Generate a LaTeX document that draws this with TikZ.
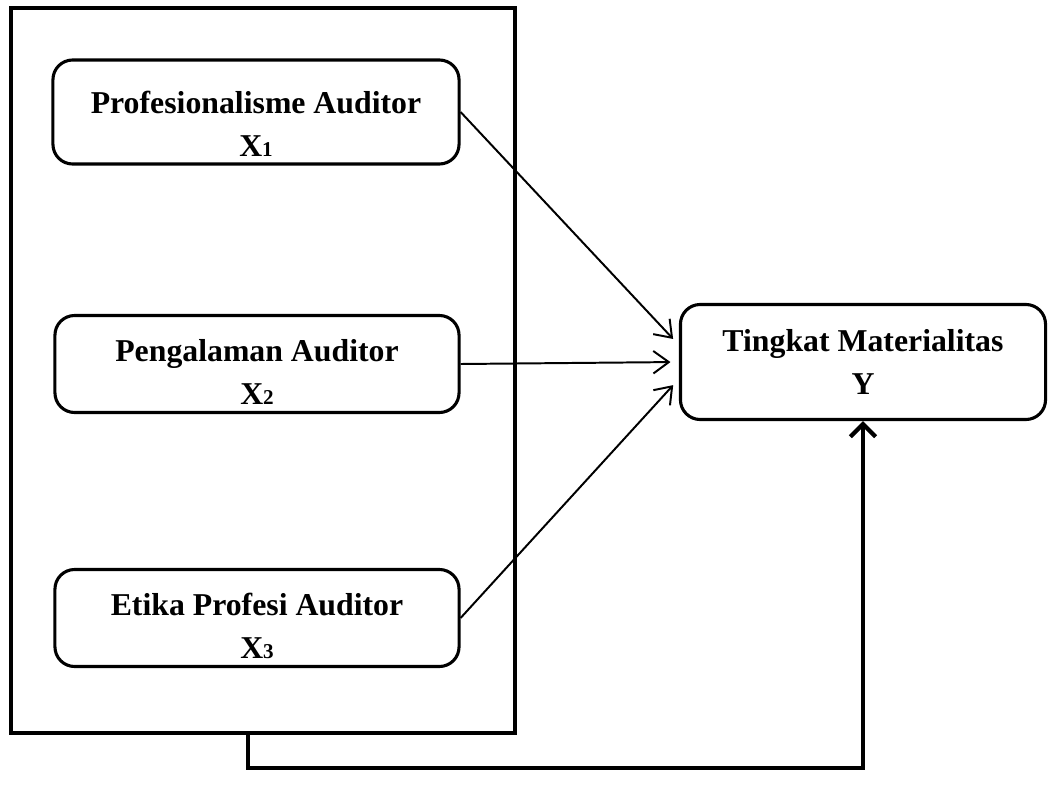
\documentclass[tikz,border=0pt]{standalone}
\usepackage{fontspec}
\setmainfont{Liberation Serif}
\usetikzlibrary{arrows.meta}
\newcommand{\idx}[1]{{\fontsize{15}{15}\selectfont #1}}
\newcommand{\drop}[1]{\rule{0pt}{#1}}

\begin{document}
\begin{tikzpicture}[x=0.025cm,y=-0.025cm,>={Straight Barb[length=11pt,width=16pt]},
  varbox/.style={draw,line width=2.2pt,rounded corners=14pt,align=center,inner sep=0pt,
    font=\bfseries\fontsize{22.6}{30.5}\selectfont},
  link/.style={->,line width=1.4pt,shorten >=6pt}]
  \useasboundingbox (0,0) rectangle (1055,796);
  \node[draw,line width=3.2pt,minimum width=12.6cm,minimum height=18.125cm] (frame) at (263,370.5) {};
  \node[varbox,minimum width=10.15cm,minimum height=2.6cm] (x1) at (256,112) {\drop{33pt}Profesionalisme Auditor\\X\idx{1}};
  \node[varbox,minimum width=10.1cm,minimum height=2.425cm] (x2) at (257,364) {\drop{27pt}Pengalaman Auditor\\X\idx{2}};
  \node[varbox,minimum width=10.1cm,minimum height=2.425cm] (x3) at (257,618) {\drop{27pt}Etika Profesi Auditor\\X\idx{3}};
  \node[varbox,minimum width=9.125cm,minimum height=2.875cm] (y) at (863,362) {Tingkat Materialitas\\Y};
  \draw[link] (x1.east) -- ([yshift=12pt]y.west);
  \draw[link] (x2.east) -- (y.west);
  \draw[link] (x3.east) -- ([yshift=-12pt]y.west);
  \coordinate (bend) at (248,768);
  \draw[->,line width=3pt,>={Straight Barb[length=9pt,width=18pt]}] (frame.south -| bend) -- (bend) -| (y.south);
\end{tikzpicture}
\end{document}
